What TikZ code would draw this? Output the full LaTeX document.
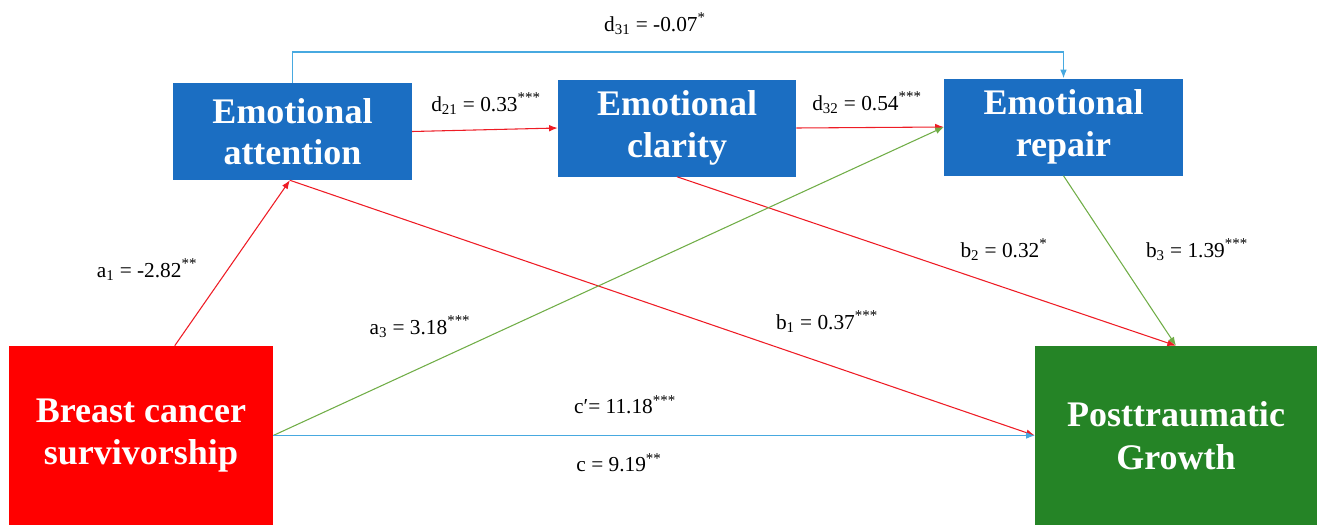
\documentclass[tikz,border=0pt]{standalone}
\usepackage{fontspec}
\setmainfont{Liberation Serif}
\usetikzlibrary{arrows.meta}
\definecolor{boxblue}{HTML}{1B6EC2}
\definecolor{boxgreen}{HTML}{258426}
\definecolor{boxred}{HTML}{FF0000}
\definecolor{lred}{HTML}{EE1C25}
\definecolor{lgreen}{HTML}{70AD47}
\definecolor{lblue}{HTML}{47A9E0}
\tikzset{
  box/.style={fill=boxblue, text=white, font=\bfseries\fontsize{27}{31}\selectfont,
    align=center, inner sep=0pt, minimum width=179pt, minimum height=72.75pt},
  bigbox/.style={text=white, font=\bfseries\fontsize{27}{32}\selectfont,
    align=center, inner sep=0pt, minimum height=134.25pt},
  lbl/.style={font=\fontsize{16}{19}\selectfont, inner sep=1pt},
  conn/.style={line width=0.8pt, -{Latex[length=6.5pt,width=5pt]}},
}
\begin{document}
\begin{tikzpicture}[x=0.75pt,y=-0.75pt]
\useasboundingbox (0,0) rectangle (1317,525);
% boxes
\node[box] (att) at (292.5,131.5) {Emotional\\attention};
\node[box, minimum width=178.5pt] (cla) at (677,128) {Emotional\\clarity};
\node[box] (rep) at (1063.5,127) {Emotional\\repair};
\node[bigbox, fill=boxred, minimum width=198pt] (bcs) at (141,435.5) {Breast cancer\\survivorship};
\node[bigbox, fill=boxgreen, minimum width=211.5pt] (ptg) at (1176,435.5) {Posttraumatic\\Growth};
% helper coordinates
\coordinate (d31top) at (680,52);
% connectors
\draw[conn, lblue] (att.north) |- (d31top) -| (rep.north);
\draw[conn, lred] (att.east) -- (cla.west);
\draw[conn, lred] (cla.east) -- (rep.west);
\draw[conn, lred] ([shift={(166,0)}]bcs.north west) -- ([shift={(117,0)}]att.south west);
\draw[conn, lred] ([shift={(117,0)}]att.south west) -- (ptg.west);
\draw[conn, lred] (cla.south) -- (ptg.north);
\draw[conn, lgreen] (rep.south) -- (ptg.north);
\draw[conn, lgreen] (bcs.east) -- (rep.west);
\draw[conn, lblue] (bcs.east) -- (ptg.west);
% labels
\node[lbl] (ld31) at (655,24) {d\textsubscript{31} = -0.07\textsuperscript{*}};
\node[lbl] (ld21) at (486,104) {d\textsubscript{21} = 0.33\textsuperscript{***}};
\node[lbl] (ld32) at (867,103) {d\textsubscript{32} = 0.54\textsuperscript{***}};
\node[lbl] (la1) at (147,270) {a\textsubscript{1} = -2.82\textsuperscript{**}};
\node[lbl] (la3) at (420,327) {a\textsubscript{3} = 3.18\textsuperscript{***}};
\node[lbl] (lb1) at (827,322) {b\textsubscript{1} = 0.37\textsuperscript{***}};
\node[lbl] (lb2) at (1004,250) {b\textsubscript{2} = 0.32\textsuperscript{*}};
\node[lbl] (lb3) at (1197,250) {b\textsubscript{3} = 1.39\textsuperscript{***}};
\node[lbl] (lcp) at (625,405) {c′= 11.18\textsuperscript{***}};
\node[lbl] (lc) at (619,463) {c = 9.19\textsuperscript{**}};
\end{tikzpicture}
\end{document}
